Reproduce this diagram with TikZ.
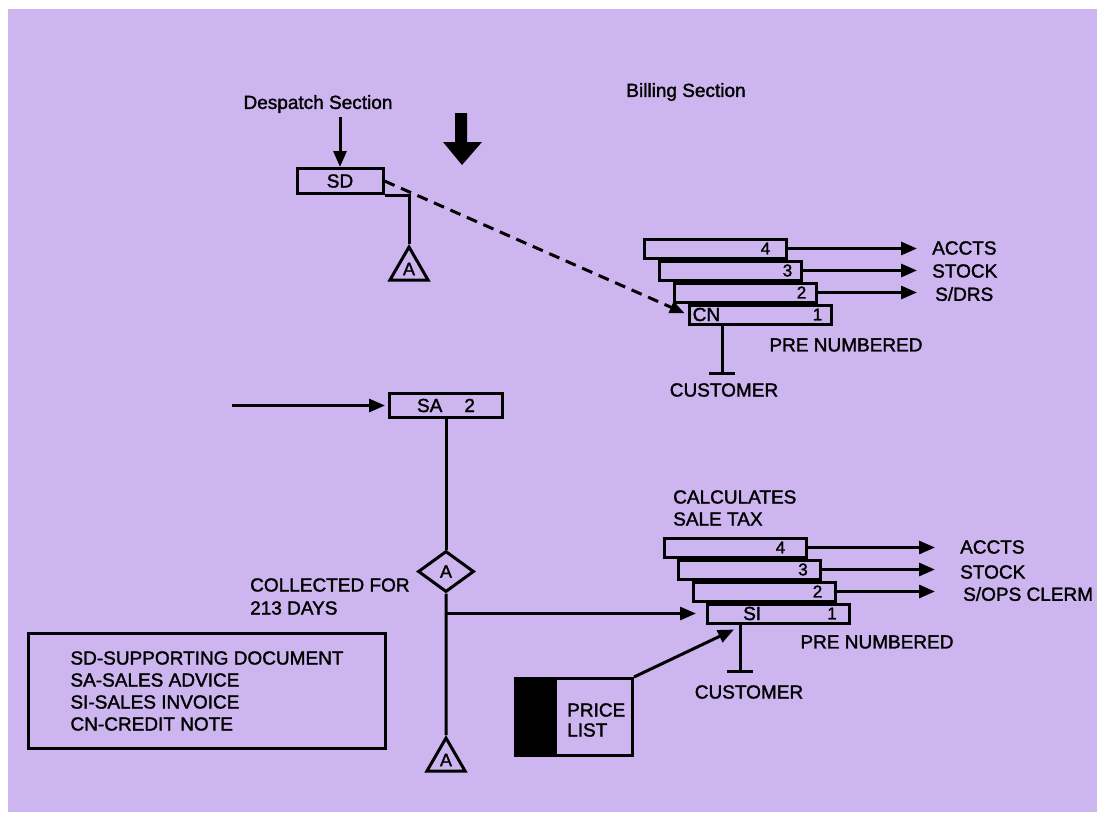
\documentclass[tikz,border=0pt]{standalone}
\usepackage{fontspec}
\setmainfont{Liberation Sans}[FakeBold=1.6]
\usetikzlibrary{arrows.meta,shapes.geometric}
\definecolor{sheet}{RGB}{205,181,240}

\begin{document}
\begin{tikzpicture}[x=1pt, y=-1pt,
    every node/.style={font=\fontsize{19}{22}\selectfont},
    txt/.style={inner sep=0pt},
    box/.style={draw, line width=3pt, inner sep=0pt},
    docbox/.style={box, minimum width=142pt, minimum height=19pt},
    num/.style={txt, font=\fontsize{17}{17}\selectfont},
    line/.style={line width=3pt},
    flow/.style={line, -{Triangle[length=16pt,width=13pt]}},
    tee/.style={line, -{Bar[width=26pt,line width=3pt]}},
    tri/.style={draw, line width=3pt, regular polygon, regular polygon sides=3,
                minimum size=44pt, inner sep=0pt, font=\fontsize{18}{18}\selectfont}]
        \useasboundingbox (0,0) rectangle (1097,817);
        % Hoja
        \fill[white] (0,0) rectangle (1097,817);
        \fill[sheet] (8,9) rectangle (1097,812);

        % Titulos
        \node[txt] (desp) at (318,104) {Despatch Section};
        \node[txt] (bill) at (686,92) {Billing Section};

        % Despatch: SD
        \node[box, minimum width=86pt, minimum height=25pt] (sd) at (340,181) {SD};
        \draw[flow, shorten <=4pt] (sd.north |- desp.south) -- (sd.north);
        \node[tri] (triA) at (409,269) {\raisebox{-3pt}{A}};
        \draw[line] (sd.south east) -| (triA.north);
        \fill (455,113) -- (467,113) -- (467,142) -- (482,142) -- (462,165)
              -- (443,142) -- (455,142) -- cycle;

        % Credit note (4 copias)
        \foreach \i in {1,...,4}
            \node[docbox] (cn\i) at ({715+15*(4-\i)},{248.5+22*(4-\i)}) {};
        \foreach \i/\off in {1/15,2/16,3/15,4/22}
            \node[num] at ([xshift=-\off pt]cn\i.east) {\i};
        \node[txt, anchor=west] (cnlab) at ([xshift=5pt]cn1.west) {CN};
        \draw[line, dash pattern=on 11pt off 7pt, -{Triangle[length=15pt,width=12pt]},
              shorten >=3pt] (sd.east) -- (cn1.west);

        \node[txt, anchor=west] (cnout4) at (932,248) {ACCTS};
        \node[txt, anchor=west] (cnout3) at (932,271) {STOCK};
        \node[txt, anchor=west] (cnout2) at (935,294) {S/DRS};
        \draw[flow, shorten >=15pt] (cn4.east) -- (cn4.east -| cnout4.west);
        \draw[flow, shorten >=15pt] (cn3.east) -- (cn3.east -| cnout3.west);
        \draw[flow, shorten >=18pt] (cn2.east) -- (cn2.east -| cnout2.west);

        \node[txt] (cnpre) at (846,345) {PRE NUMBERED};
        \node[txt] (cncust) at (724,390) {CUSTOMER};
        \coordinate (cnbar) at (722,375);
        \draw[tee] (cn1.south -| cnbar) -- (cnbar);

        % Sales advice
        \coordinate (sain) at (232,405.5);
        \node[box, minimum width=113pt, minimum height=24pt] (sa) at (446,405.5) {SA\hspace{22pt}2};
        \draw[flow, shorten >=3pt] (sain) -- (sa.west);
        \node[draw, line width=3pt, diamond, minimum width=56pt, minimum height=41pt,
              inner sep=0pt, font=\fontsize{18}{18}\selectfont] (dia) at (446,571.5) {A};
        \draw[line] (sa.south -| dia.north) -- (dia.north);
        \node[txt, anchor=west, align=left, font=\fontsize{19}{23}\selectfont] (coll) at (250,596.5)
            {COLLECTED FOR\\213 DAYS};
        \node[tri] (triB) at (446,760) {\raisebox{-3pt}{A}};
        \draw[line] (dia.south) -- (triB.north);

        % Sales invoice (4 copias)
        \node[txt, anchor=west, align=left] (calc) at (673,508) {CALCULATES\\SALE TAX};
        \foreach \i in {1,...,4}
            \node[docbox] (si\i) at ({735+14.5*(4-\i)},{547.5+22*(4-\i)}) {};
        \foreach \i/\off in {1/19,2/19,3/19,4/27}
            \node[num] at ([xshift=-\off pt]si\i.east) {\i};
        \node[txt, anchor=west] (silab) at ([xshift=37pt]si1.west) {SI};
        \draw[flow, shorten >=10pt] (dia.south |- si1.west) -- (si1.west);

        \node[txt, anchor=west] (siout4) at (960,547) {ACCTS};
        \node[txt, anchor=west] (siout3) at (960,572) {STOCK};
        \node[txt, anchor=west] (siout2) at (963,594) {S/OPS CLERM};
        \draw[flow, shorten >=25pt] (si4.east) -- (si4.east -| siout4.west);
        \draw[flow, shorten >=25pt] (si3.east) -- (si3.east -| siout3.west);
        \draw[flow, shorten >=28pt] (si2.east) -- (si2.east -| siout2.west);

        \node[txt] (sipre) at (877,642) {PRE NUMBERED};
        \node[txt] (sicust) at (749,692) {CUSTOMER};
        \coordinate (sibar) at (740,673);
        \draw[tee] (si1.south -| sibar) -- (sibar);

        % Lista de precios
        \node[box, minimum width=117pt, minimum height=77pt,
              path picture={\fill (path picture bounding box.north west)
                  rectangle ([xshift=41pt]path picture bounding box.south west);}]
              (plist) at (574,717) {};
        \node[txt, anchor=west, align=left, font=\fontsize{19}{20}\selectfont] (pltext) at (567,720)
            {PRICE\\LIST};
        \draw[flow] (plist.north east) -- ([xshift=28pt,yshift=-5pt]si1.south west);

        % Leyenda
        \node[box, minimum width=357pt, minimum height=115pt, align=left] (legend) at (207,691)
            {SD-SUPPORTING DOCUMENT\\SA-SALES ADVICE\\SI-SALES INVOICE\\CN-CREDIT NOTE};
\end{tikzpicture}
\end{document}
